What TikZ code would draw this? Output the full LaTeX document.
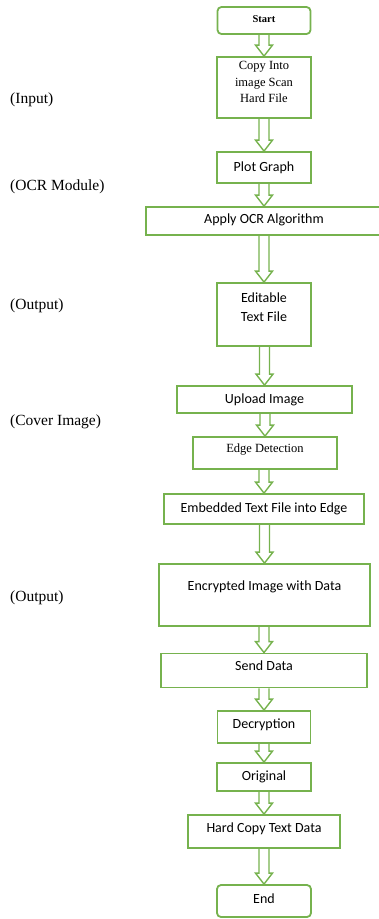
\documentclass[tikz,border=0pt]{standalone}
\usepackage{fontspec}
\setmainfont{Liberation Serif}
\newfontfamily\carlito{Carlito}
\usetikzlibrary{calc}
\definecolor{boxgreen}{RGB}{118,178,78}
\newcommand\lifted[2]{\raisebox{#1}[\height][\depth]{#2}}
\newcommand\flowarrow[2]{%
  \draw[flow] let \p1=(#1.south), \p2=(#2.north) in
    (\x2-5pt,\y1) -- (\x2-5pt,\y2+11pt) -- (\x2-8.5pt,\y2+11pt) -- (\x2,\y2)
    -- (\x2+8.5pt,\y2+11pt) -- (\x2+5pt,\y2+11pt) -- (\x2+5pt,\y1);}
\begin{document}
\begin{tikzpicture}[x=1pt,y=-1pt,
  box/.style={draw=boxgreen, line width=1.8pt, fill=white, inner sep=0pt, align=center},
  sans/.style={font=\carlito\fontsize{14}{18.4}\selectfont},
  serif/.style={font=\fontsize{12.5}{16.3}\selectfont},
  side/.style={font=\fontsize{15.5}{18}\selectfont, anchor=west, inner sep=0pt},
  flow/.style={draw=boxgreen, line width=1.4pt, line join=miter}]
\useasboundingbox (0,0) rectangle (379,919);
\clip (0,0) rectangle (379,919);

% boxes
\node[box, rounded corners=4pt, minimum width=93pt, minimum height=27pt,
      font=\bfseries\fontsize{10.5}{12}\selectfont] (start) at (264,20.5) {\lifted{1pt}{Start}};
\node[box, serif, minimum width=94pt, minimum height=61pt] (copy) at (264,87.5)
  {\lifted{4.5pt}{\begin{tabular}{@{}c@{}}Copy Into\\image Scan\\Hard File\end{tabular}}};
\node[box, sans, minimum width=94pt, minimum height=31pt] (plot) at (264,167.5) {Plot Graph};
\node[box, sans, minimum width=236pt, minimum height=28pt] (ocr) at (264,221) {\lifted{1.5pt}{Apply OCR Algorithm}};
\node[box, sans, minimum width=94pt, minimum height=63pt] (editable) at (264,314.5)
  {\lifted{6pt}{\begin{tabular}{@{}c@{}}Editable\\Text File\end{tabular}}};
\node[box, sans, minimum width=175pt, minimum height=27pt] (upload) at (264.5,399.5) {Upload Image};
\node[box, serif, minimum width=144pt, minimum height=32pt] (edge) at (265,453) {\lifted{3pt}{Edge Detection}};
\node[box, sans, minimum width=200pt, minimum height=30pt] (embed) at (264,509) {Embedded Text File into Edge};
\node[box, sans, minimum width=211pt, minimum height=62pt] (encrypt) at (264.5,595) {\lifted{8pt}{Encrypted Image with Data}};
\node[box, sans, minimum width=206pt, minimum height=34pt] (send) at (264,670.5) {\lifted{5pt}{Send Data}};
\node[box, sans, minimum width=93pt, minimum height=32pt] (decrypt) at (264,727) {\lifted{2pt}{Decryption}};
\node[box, sans, minimum width=94pt, minimum height=28pt] (original) at (264,777) {Original};
\node[box, sans, minimum width=152pt, minimum height=33pt] (hardcopy) at (264,831.5) {\lifted{3pt}{Hard Copy Text Data}};
\node[box, sans, rounded corners=4pt, minimum width=94pt, minimum height=32pt] (end) at (264,901) {\lifted{2pt}{End}};

% connectors
\flowarrow{start}{copy}
\flowarrow{copy}{plot}
\flowarrow{plot}{ocr}
\flowarrow{ocr}{editable}
\flowarrow{editable}{upload}
\flowarrow{upload}{edge}
\flowarrow{edge}{embed}
\flowarrow{embed}{encrypt}
\flowarrow{encrypt}{send}
\flowarrow{send}{decrypt}
\flowarrow{decrypt}{original}
\flowarrow{original}{hardcopy}
\flowarrow{hardcopy}{end}

% side labels
\node[side] (lin) at (10,100) {(Input)};
\node[side] (locr) at (10,187) {(OCR Module)};
\node[side] (lout1) at (10,306) {(Output)};
\node[side] (lcover) at (10,422) {(Cover Image)};
\node[side] (lout2) at (10,598) {(Output)};
\end{tikzpicture}
\end{document}
